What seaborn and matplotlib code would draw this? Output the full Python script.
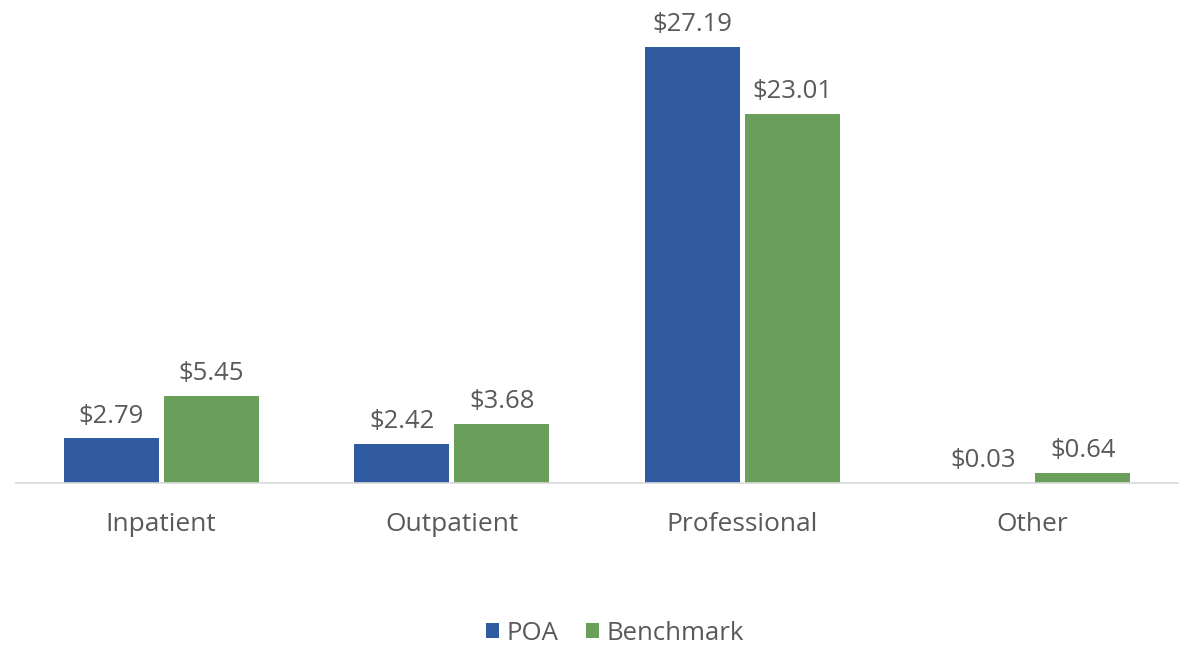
import matplotlib
matplotlib.use("Agg")
import matplotlib.pyplot as plt
import seaborn as sns
import pandas as pd

# Per-member cost by service category
categories = ["Inpatient", "Outpatient", "Professional", "Other"]
poa_values = [2.79, 2.42, 27.19, 0.03]
benchmark_values = [5.45, 3.68, 23.01, 0.64]
series_names = ["POA", "Benchmark"]

df = pd.DataFrame({
    "category": categories * 2,
    "value": poa_values + benchmark_values,
    "series": [series_names[0]] * len(categories) + [series_names[1]] * len(categories),
})

sns.set_theme(style="white")
plt.rcParams["font.family"] = ["Open Sans", "DejaVu Sans"]

text_color = "#595959"
palette = {"POA": "#305BA1", "Benchmark": "#6A9E5B"}

fig = plt.figure(figsize=(11.85, 6.46), dpi=100)
ax = fig.add_axes([16 / 1185, 163 / 646, 1162 / 1185, 481 / 646])

sns.barplot(data=df, x="category", y="value", hue="series", order=categories,
            hue_order=series_names, palette=palette, width=0.688, gap=0.05,
            linewidth=0, saturation=1, ax=ax, legend=True)

ax.set_xlim(-0.5, 3.5)
ax.set_ylim(0, 30)

for container in ax.containers:
    ax.bar_label(container, labels=[f"${v:.2f}" for v in container.datavalues],
                 padding=7, fontsize=18.5, color=text_color)

for side in ["top", "right", "left"]:
    ax.spines[side].set_visible(False)
ax.spines["bottom"].set_color("#D9D9D9")
ax.spines["bottom"].set_linewidth(1.2)
ax.set_yticks([])
ax.set_xlabel("")
ax.set_ylabel("")
ax.tick_params(axis="x", length=0, pad=21, labelsize=19, labelcolor=text_color)

handles, labels = ax.get_legend_handles_labels()
ax.get_legend().remove()
fig.legend(handles, labels, loc="center", bbox_to_anchor=(0.519, 1 - 633 / 646),
           ncol=2, frameon=False, fontsize=18.5, labelcolor=text_color,
           handlelength=0.5, handleheight=0.5, handletextpad=0.3,
           columnspacing=1.1)

fig.savefig("out.png", dpi=100, facecolor="white")
